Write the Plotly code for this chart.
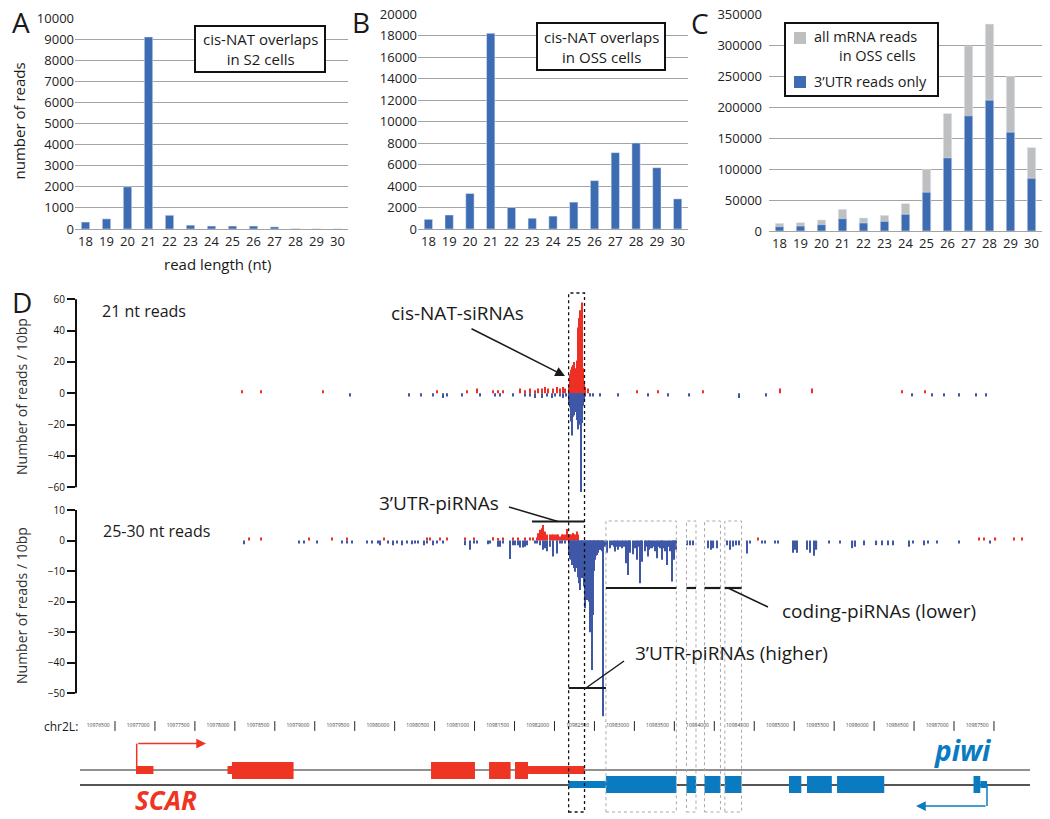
import plotly.graph_objects as go

W, H = 1050, 819

# ---- panels A-C: read length distributions ----
read_lengths = ["18", "19", "20", "21", "22", "23", "24", "25", "26", "27", "28", "29", "30"]
s2_cisnat_reads = [330, 480, 2000, 9100, 650, 180, 140, 140, 140, 100, 15, 8, 5]
oss_cisnat_reads = [900, 1300, 3300, 18200, 2000, 1000, 1200, 2500, 4500, 7100, 8000, 5700, 2800]
oss_all_mrna_reads = [12400, 13500, 17800, 35000, 21000, 25300, 44200, 99600,
                      189500, 298300, 333800, 249300, 134600]
oss_utr_reads = [7000, 8000, 10200, 19900, 12900, 15600, 26900, 62500,
                 117900, 185800, 211000, 159400, 85000]

# ---- panel D: reads per 10bp bin (chr2L position, count) ----
nt21_plus_pos = [10978090, 10978330, 10979100, 10980530, 10980910, 10981030, 10981230, 10981290, 10981360, 10981570,
                 10981630, 10981690, 10981760, 10981790, 10981840, 10981880, 10981920, 10981980, 10982030, 10982070,
                 10982110, 10982130, 10982180, 10982190, 10982200, 10982210, 10982220, 10982230, 10982240, 10982250,
                 10982260, 10982270, 10982280, 10982290, 10982300, 10982310, 10982320, 10982330, 10982340, 10982350,
                 10982360, 10982370, 10982380, 10982420, 10983030, 10983300, 10983860, 10984820, 10985220, 10986350,
                 10986640]
nt21_plus_val = [2, 2, 2, 2, 2, 3, 2, 2, 2, 3,
                 2, 3, 2, 3, 3, 4, 3, 3, 4, 3,
                 4, 3, 4, 8, 12, 15, 17, 18, 15, 20,
                 16, 11, 21, 23, 42, 48, 53, 47, 58, 32,
                 16, 8, 4, 3, 2, 2, 2, 3, 3, 2,
                 2]
nt21_minus_pos = [10979440, 10980180, 10980330, 10980480, 10980600, 10980650, 10980840, 10981070, 10981260, 10981320,
                  10981480, 10981630, 10981690, 10981760, 10981840, 10981910, 10981970, 10982010, 10982070, 10982110,
                  10982140, 10982180, 10982190, 10982200, 10982210, 10982220, 10982230, 10982240, 10982250, 10982260,
                  10982270, 10982280, 10982290, 10982300, 10982310, 10982320, 10982330, 10982340, 10982350, 10982360,
                  10982370, 10982380, 10982440, 10982480, 10982570, 10982800, 10983170, 10983420, 10983690, 10984310,
                  10984650, 10986480, 10986730, 10986880, 10987060, 10987280, 10987400]
nt21_minus_val = [-2, -2, -2, -2, -3, -2, -2, -2, -2, -2,
                  -2, -2, -2, -3, -3, -2, -3, -2, -2, -3,
                  -2, -7, -8, -9, -18, -27, -15, -11, -14, -12,
                  -10, -17, -19, -23, -20, -17, -63, -19, -13, -8,
                  -4, -2, -2, -2, -2, -2, -2, -2, -2, -3,
                  -2, -2, -2, -2, -2, -2, -2]

pi_plus_pos = [10978180, 10978330, 10978930, 10979220, 10979400, 10979870, 10980400, 10980440, 10980570, 10980650,
               10980880, 10980990, 10981230, 10981290, 10981360, 10981480, 10981540, 10981630, 10981690, 10981730,
               10981780, 10981790, 10981820, 10981840, 10981860, 10981880, 10981910, 10981940, 10981970, 10981980,
               10982010, 10982030, 10982040, 10982070, 10982090, 10982110, 10982130, 10982160, 10982180, 10982200,
               10982210, 10982230, 10982250, 10982260, 10982280, 10982290, 10982300, 10984550, 10987310, 10987380,
               10987520, 10987750, 10987850]
pi_plus_val = [1, 1, 1, 1, 1, 1, 1, 1, 1, 1,
               1, 1, 1.1, 0.8, 1, 1, 1, 1, 1, 1,
               1, 2.4, 3.5, 4, 5.1, 3, 2, 2, 2, 2,
               2, 2, 2, 1.3, 2, 2, 2, 3.8, 2, 2,
               2, 2.5, 2, 2, 3, 2, 1.5, 1, 1, 1,
               1, 1, 1]
pi_minus_pos = [10978110, 10978800, 10978870, 10979030, 10979340, 10979400, 10979470, 10979650, 10979720, 10979790,
                10979820, 10979920, 10979980, 10980030, 10980090, 10980150, 10980220, 10980250, 10980290, 10980370,
                10980400, 10980480, 10980530, 10980600, 10980880, 10980940, 10980990, 10981030, 10981170, 10981190,
                10981290, 10981320, 10981360, 10981440, 10981480, 10981510, 10981540, 10981570, 10981610, 10981630,
                10981660, 10981760, 10981780, 10981820, 10981860, 10981880, 10981910, 10981940, 10981980, 10982030,
                10982070, 10982090, 10982130, 10982180, 10982190, 10982200, 10982210, 10982220, 10982230, 10982240,
                10982250, 10982260, 10982270, 10982280, 10982290, 10982300, 10982310, 10982320, 10982330, 10982340,
                10982350, 10982360, 10982370, 10982380, 10982390, 10982400, 10982410, 10982420, 10982430, 10982440,
                10982450, 10982460, 10982470, 10982480, 10982490, 10982500, 10982510, 10982520, 10982530, 10982540,
                10982550, 10982560, 10982570, 10982580, 10982590, 10982600, 10982610, 10982630, 10982660, 10982690,
                10982720, 10982740, 10982760, 10982780, 10982800, 10982820, 10982840, 10982860, 10982880, 10982900,
                10982920, 10982940, 10982950, 10982980, 10983010, 10983030, 10983050, 10983070, 10983090, 10983100,
                10983130, 10983150, 10983170, 10983180, 10983200, 10983220, 10983240, 10983260, 10983280, 10983300,
                10983320, 10983340, 10983350, 10983360, 10983380, 10983410, 10983430, 10983450, 10983470, 10983480,
                10983500, 10983510, 10983520, 10983660, 10983700, 10983730, 10983920, 10983960, 10983990, 10984030,
                10984160, 10984200, 10984240, 10984270, 10984310, 10984410, 10984450, 10984600, 10984630, 10984760,
                10984800, 10984990, 10985010, 10985040, 10985160, 10985200, 10985250, 10985280, 10985440, 10985570,
                10985730, 10985760, 10985870, 10986030, 10986100, 10986170, 10986240, 10986440, 10986490, 10986620,
                10986670, 10986790, 10987060, 10987450]
pi_minus_val = [-1.2, -1, -1, -1, -1, -1, -1, -1, -1, -1,
                -1.5, -1, -1.5, -1, -1.5, -1, -1.2, -1, -1, -1.5,
                -1, -1.5, -1, -1, -1.5, -3, -1, -1, -1.2, -1,
                -2, -2, -1, -6, -1.5, -1.5, -1.5, -2.3, -2.3, -2,
                -1.5, -1, -1, -1.5, -3, -2.5, -3.5, -2, -5.2, -4.2,
                -1, -1, -1, -4.7, -5, -6, -6.3, -8, -7, -9,
                -7, -10.2, -9, -8.5, -11.3, -12, -14, -16.2, -10, -12.3,
                -9, -7, -15, -22.2, -18, -16, -19.5, -13.4, -20, -24.4,
                -30, -25, -42.4, -24.4, -10, -8, -6.3, -5, -4.7, -4,
                -3, -3, -3, -3, -3.5, -3, -57.5, -2, -4, -2.5,
                -1.5, -2, -3.6, -2, -3, -2, -2.5, -2, -2, -7.4,
                -11.3, -3, -4, -4.5, -2.5, -6.3, -2, -14, -2.5, -6.9,
                -3.5, -2, -5.2, -3, -2.5, -2.5, -2, -3.5, -5.8, -2,
                -2.5, -2, -6.3, -2.5, -3.5, -8, -2, -3.5, -13.4, -3,
                -6.3, -2, -3, -1.5, -1.5, -1.5, -2.5, -3, -2.5, -2.5,
                -1.5, -3, -2, -1.5, -1.5, -4.2, -1, -1, -1, -1,
                -1, -4, -3, -4, -3, -4, -5, -3, -1, -1,
                -2.5, -2, -1.5, -1.5, -1.5, -1.5, -1.5, -2, -1, -1.5,
                -1, -1, -1, -1]

# gene models (start, end) on chr2L
scar_cds = [(10977964, 10978735), (10980455, 10981005), (10981181, 10981451), (10981506, 10981669)]
scar_utr = [(10976763, 10976981), (10977908, 10977964), (10981669, 10982376)]
piwi_cds = [(10982644, 10983525), (10983652, 10983771), (10983878, 10984077), (10984132, 10984341),
            (10984935, 10985089), (10985160, 10985471), (10985536, 10986127), (10987244, 10987329)]
piwi_utr = [(10982177, 10982644), (10987329, 10987414)]
chr_ticks = list(range(10976500, 10988000, 500))

BAR_BLUE = "#3D6CB3"
BAR_GRAY = "#BDBFC1"
TRACK_RED = "#EE2F24"
TRACK_BLUE = "#3F57A7"
GENE_RED = "#EE3524"
GENE_BLUE = "#0A7BC1"
GRID = "#A3A3A3"
FONT = "Open Sans, sans-serif"
GENOME_RANGE = [10976012, 10987951]


def fx(px):
    return px / W


def fy(py):
    return 1 - py / H


def pline(x0, y0, x1, y1, color="#1a1a1a", width=1.5, dash=None):
    return dict(type="line", xref="paper", yref="paper", x0=fx(x0), y0=fy(y0),
                x1=fx(x1), y1=fy(y1), line=dict(color=color, width=width, dash=dash))


def prect(x0, y0, x1, y1, fill="white", color="#111", width=2):
    return dict(type="rect", xref="paper", yref="paper", x0=fx(x0), y0=fy(y0),
                x1=fx(x1), y1=fy(y1), fillcolor=fill, line=dict(color=color, width=width))


def label(x, y, text, size, anchor="center", angle=0, color="#1a1a1a", **kw):
    return dict(x=fx(x), y=fy(y), xref="paper", yref="paper", text=text, showarrow=False,
                xanchor=anchor, yanchor="middle", textangle=angle,
                font=dict(size=size, color=color, family=FONT), **kw)


def arrow(x, y, tail_x, tail_y, color="#1a1a1a"):
    return dict(x=fx(x), y=fy(y), xref="paper", yref="paper", text="", showarrow=True,
                ax=tail_x - x, ay=tail_y - y, arrowhead=2, arrowsize=1.3,
                arrowwidth=1.5, arrowcolor=color, standoff=0)


fig = go.Figure()

# A-C bars
fig.add_trace(go.Bar(x=read_lengths, y=s2_cisnat_reads, marker_color=BAR_BLUE, xaxis="x", yaxis="y"))
fig.add_trace(go.Bar(x=read_lengths, y=oss_cisnat_reads, marker_color=BAR_BLUE, xaxis="x2", yaxis="y2"))
fig.add_trace(go.Bar(x=read_lengths, y=oss_all_mrna_reads, marker_color=BAR_GRAY, xaxis="x3", yaxis="y3"))
fig.add_trace(go.Bar(x=read_lengths, y=oss_utr_reads, marker_color=BAR_BLUE, xaxis="x3", yaxis="y3"))

# D tracks
for pos, val, color, xa, ya in [
    (nt21_plus_pos, nt21_plus_val, TRACK_RED, "x4", "y4"),
    (nt21_minus_pos, nt21_minus_val, TRACK_BLUE, "x4", "y4"),
    (pi_plus_pos, pi_plus_val, TRACK_RED, "x5", "y5"),
    (pi_minus_pos, pi_minus_val, TRACK_BLUE, "x5", "y5"),
]:
    fig.add_trace(go.Bar(x=pos, y=val, width=15, marker=dict(color=color, line_width=0),
                         xaxis=xa, yaxis=ya))

# chromosome coordinate ruler
fig.add_trace(go.Scatter(
    x=chr_ticks, y=[726] * len(chr_ticks), mode="markers+text",
    text=[str(t) for t in chr_ticks], textposition="middle left",
    textfont=dict(size=5, color="#444", family=FONT),
    marker=dict(symbol="line-ns", size=7, line=dict(width=1, color="#222")),
    xaxis="x6", yaxis="y6", cliponaxis=False,
))

bar_axis_common = dict(showline=True, linecolor=GRID, linewidth=1, ticks="", showgrid=False,
                       automargin=False, tickfont=dict(size=13, color="#222"), type="category")
bar_yaxis_common = dict(showgrid=True, gridcolor=GRID, gridwidth=1, zeroline=False, ticks="",
                        showline=False, tickformat="d", automargin=False,
                        tickfont=dict(size=13, color="#222"))
track_x = dict(domain=[fx(76), fx(1030)], range=GENOME_RANGE, visible=False, automargin=False)
track_y = dict(ticks="outside", ticklen=8, tickwidth=1.5, tickcolor="#111", showline=False,
               showgrid=False, zeroline=False, automargin=False, tickfont=dict(size=10, color="#111"))

fig.update_layout(
    width=W, height=H,
    margin=dict(l=0, r=0, t=0, b=0, pad=0),
    paper_bgcolor="white", plot_bgcolor="rgba(0,0,0,0)",
    font=dict(family=FONT, color="#1a1a1a"),
    showlegend=False, barmode="overlay", bargap=0.6,
    xaxis=dict(domain=[fx(75), fx(348)], anchor="y", **bar_axis_common),
    yaxis=dict(domain=[fy(229), fy(18)], anchor="x", range=[0, 10000], dtick=1000, **bar_yaxis_common),
    xaxis2=dict(domain=[fx(418), fx(688)], anchor="y2", **bar_axis_common),
    yaxis2=dict(domain=[fy(229), fy(14)], anchor="x2", range=[0, 20000], dtick=2000, **bar_yaxis_common),
    xaxis3=dict(domain=[fx(769), fx(1042)], anchor="y3", **bar_axis_common),
    yaxis3=dict(domain=[fy(231), fy(14)], anchor="x3", range=[0, 350000], dtick=50000,
                ticklabelstandoff=6, **bar_yaxis_common),
    xaxis4=dict(anchor="y4", **track_x),
    yaxis4=dict(domain=[fy(497), fy(290)], anchor="x4", range=[-66.19, 65.93],
                tickvals=[-60, -40, -20, 0, 20, 40, 60], **track_y),
    xaxis5=dict(anchor="y5", **track_x),
    yaxis5=dict(domain=[fy(720), fy(503)], anchor="x5", range=[-58.74, 12.29],
                tickvals=[-50, -40, -30, -20, -10, 0, 10], **track_y),
    xaxis6=dict(anchor="y6", **track_x),
    yaxis6=dict(domain=[0, fy(700)], anchor="x6", range=[819, 700], visible=False, automargin=False),
)

shapes = []
# D axis lines
shapes.append(dict(type="line", xref="x4 domain", yref="y4", x0=0, x1=0, y0=-60, y1=60,
                   line=dict(color="#111", width=2)))
shapes.append(dict(type="line", xref="x5 domain", yref="y5", x0=0, x1=0, y0=-50, y1=10,
                   line=dict(color="#111", width=2)))

# legend boxes
shapes.append(prect(195, 26, 325, 72))
shapes.append(prect(537, 23, 665, 70))
shapes.append(prect(785, 23, 938, 96))
shapes.append(prect(794, 32, 806, 44, fill=BAR_GRAY, width=0))
shapes.append(prect(794, 76, 806, 88, fill=BAR_BLUE, width=0))

# gene model baselines
shapes.append(pline(80, 770, 1030, 770, color="#222", width=1))
shapes.append(pline(80, 785, 1030, 785, color="#555", width=2))


def exon(s, e, y0, y1, color):
    return dict(type="rect", xref="x6", yref="y6", x0=s, x1=e, y0=y0, y1=y1,
                fillcolor=color, line=dict(width=0))


for s, e in scar_cds:
    shapes.append(exon(s, e, 762, 779, GENE_RED))
for s, e in scar_utr:
    shapes.append(exon(s, e, 766, 774, GENE_RED))
for s, e in piwi_cds:
    shapes.append(exon(s, e, 776, 793, GENE_BLUE))
for s, e in piwi_utr:
    shapes.append(exon(s, e, 781, 788, GENE_BLUE))

# transcription start arrows (stems)
shapes.append(pline(136.7, 770, 136.7, 743.6, color=GENE_RED, width=1.5))
shapes.append(pline(987, 785, 987, 806, color=GENE_BLUE, width=1.5))

# dotted region boxes
shapes.append(dict(type="rect", xref="x4", yref="paper", x0=piwi_utr[0][0], x1=scar_utr[-1][1],
                   y0=fy(812), y1=fy(293), line=dict(color="#111", width=1.3, dash="dot")))
for s, e in piwi_cds[:4]:
    shapes.append(dict(type="rect", xref="x4", yref="paper", x0=s, x1=e, y0=fy(812), y1=fy(521),
                       line=dict(color="#A8A8A8", width=1, dash="dot")))

# region bars for piRNA classes
for s, e in piwi_cds[:4]:
    shapes.append(dict(type="line", xref="x4", yref="paper", x0=s, x1=e, y0=fy(588), y1=fy(588),
                       line=dict(color="#1a1a1a", width=2.2)))
shapes.append(dict(type="line", xref="x4", yref="paper", x0=piwi_utr[0][0], x1=piwi_utr[0][1],
                   y0=fy(688), y1=fy(688), line=dict(color="#1a1a1a", width=2.2)))
shapes.append(dict(type="line", xref="x4", yref="paper", x0=scar_utr[-1][0] + 50, x1=scar_utr[-1][1],
                   y0=fy(521.5), y1=fy(521.5), line=dict(color="#1a1a1a", width=2.2)))

# leader lines
shapes.append(pline(509, 507, 558, 521.5))
shapes.append(pline(586, 688, 624, 661))
shapes.append(pline(728, 588, 768, 607))

annotations = [
    label(21, 22, "A", 28), label(361, 22, "B", 28), label(700, 23, "C", 28), label(22, 302, "D", 28),
    label(18.5, 121, "number of reads", 15, angle=-90),
    label(217, 264, "read length (nt)", 15),
    label(260, 49, "cis-NAT overlaps<br>in S2 cells", 15),
    label(601, 46.5, "cis-NAT overlaps<br>in OSS cells", 15),
    label(812, 36.5, "all mRNA reads", 14.5, anchor="left"),
    label(918, 55.5, "in OSS cells", 14.5, anchor="right"),
    label(812, 82, "3\u2019UTR reads only", 14.5, anchor="left"),
    label(100, 311, "21 nt reads", 16, anchor="left"),
    label(101, 531, "25-30 nt reads", 16, anchor="left"),
    label(21, 397, "Number of reads / 10bp", 14, angle=-90, color="#333"),
    label(21, 606, "Number of reads / 10bp", 14, angle=-90, color="#333"),
    label(457, 313, "cis-NAT-siRNAs", 19),
    label(439, 503, "3\u2019UTR-piRNAs", 19),
    label(879, 611, "coding-piRNAs (lower)", 19),
    label(731, 653, "3\u2019UTR-piRNAs (higher)", 19),
    label(80, 726, "chr2L:", 12, anchor="right"),
    label(166, 800, "<b><i>SCAR</i></b>", 26, color=GENE_RED),
    label(962, 750, "<b><i>piwi</i></b>", 28, color=GENE_BLUE),
    arrow(565, 376, 470, 328),
    arrow(206, 743.6, 136.7, 743.6, color=GENE_RED),
    arrow(916, 806, 987, 806, color=GENE_BLUE),
]

fig.update_layout(shapes=shapes, annotations=annotations)
# drop the default page margin so the figure sits at the window origin
fig.write_html("out.html", config={"displayModeBar": False},
               post_script="document.body.style.margin='0';document.body.style.overflow='hidden';")
